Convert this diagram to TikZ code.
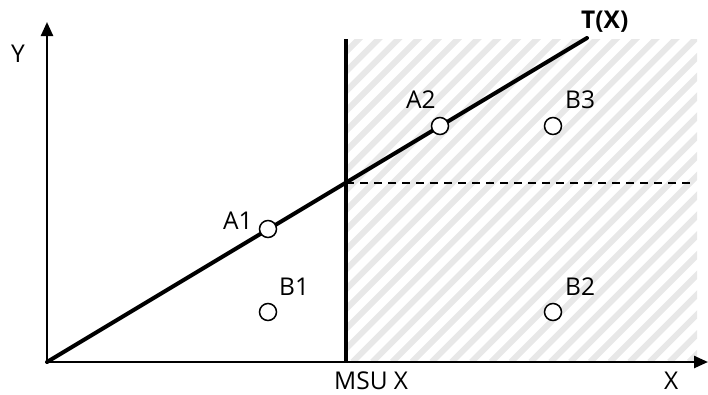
\documentclass[tikz,border=0pt]{standalone}
\usepackage{fontspec}
\setmainfont{Open Sans}
\usetikzlibrary{arrows.meta,positioning,calc}
\definecolor{ink}{HTML}{000000}
\definecolor{hatch}{HTML}{E8E8E8}
\tikzset{
  axis/.style={draw=ink, line width=2.4pt, -{Triangle[length=14pt,width=12pt]}},
  border/.style={draw=ink, line width=3.4pt},
  trend/.style={draw=ink, line width=4pt, line cap=round},
  level/.style={draw=ink, line width=1.5pt, dash pattern=on 8pt off 6pt},
  pt/.style={circle, draw=ink, line width=1.5pt, fill=white, minimum size=17pt, inner sep=0pt},
  lbl/.style={font=\fontsize{24.5}{27}\selectfont, inner sep=0pt, text depth=0pt, anchor=base west},
}

\begin{document}
\begin{tikzpicture}[x=1pt,y=-1pt]
\useasboundingbox (0,0) rectangle (708,394);

% ----- key coordinates -----
\coordinate (O) at (47,362);
\coordinate (xend) at (708,362);
\coordinate (yend) at (47,22);
\coordinate (msutop) at (346,39);
\coordinate (msubot) at (346,362);
\coordinate (tend) at (587,38);
\coordinate (cut) at (346,183);
\coordinate (cutend) at (690,183);

% ----- hatched region -----
\begin{scope}
  \clip (msutop) rectangle (697,362);
  \foreach \i in {0,...,40}
    \draw[hatch, line width=6pt] ({346+14*\i*1.414-330},362) -- ++(330,-330);
\end{scope}

% ----- axes -----
\draw[axis] (O) -- (xend);
\draw[axis] (O) -- (yend);

% ----- MSU border and T(X) -----
\draw[border] (msubot) -- (msutop);
\draw[level] (cut) -- (cutend);
\draw[trend] (O) -- (tend);

% ----- points -----
\node[pt] (A1) at (268,229) {};
\node[pt] (A2) at (440,126) {};
\node[pt] (B1) at (268,312) {};
\node[pt] (B2) at (553,312) {};
\node[pt] (B3) at (553,126) {};

% ----- labels -----
\node[lbl] (ylbl) at (11,62) {Y};
\node[lbl] (xlbl) at (664,389) {X};
\node[lbl] (msulbl) at (334,389) {MSU X};
\node[lbl, font=\fontsize{24.5}{27}\selectfont\bfseries] (tlbl) at (581,28) {T(X)};
\node[lbl] (a1lbl) at (223,229) {A1};
\node[lbl] (a2lbl) at (406,108) {A2};
\node[lbl] (b1lbl) at (279,295) {B1};
\node[lbl] (b2lbl) at (565,295) {B2};
\node[lbl] (b3lbl) at (565,108) {B3};

\end{tikzpicture}
\end{document}
